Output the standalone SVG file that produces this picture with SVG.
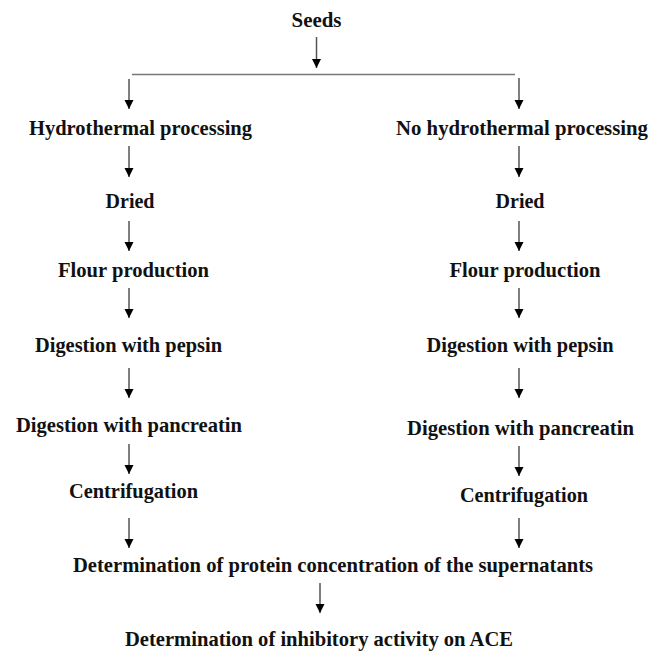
<svg xmlns="http://www.w3.org/2000/svg" width="667" height="654" viewBox="0 0 667 654">
<defs>
<marker id="ah" markerUnits="userSpaceOnUse" markerWidth="10" markerHeight="10" viewBox="0 0 10 10" refX="9" refY="5" orient="auto">
<path d="M0,0.5 L9,5 L0,9.5 Z" fill="#000"/>
</marker>
<style>
text{font-family:"Liberation Serif","Times New Roman",serif;font-weight:bold;font-size:22px;fill:#111;text-anchor:middle}
.c{stroke:#777;stroke-width:1.5;fill:none}
.a{stroke:#555;stroke-width:1.5;fill:none;marker-end:url(#ah)}
</style>
</defs>
<rect width="667" height="654" fill="#fff"/>
<g id="connectors">
<line class="a" x1="316.5" y1="37" x2="316.5" y2="68"/>
<line class="c" x1="132" y1="74.5" x2="515" y2="74.5"/>
<line class="a" x1="129" y1="79" x2="129" y2="109"/>
<line class="a" x1="519" y1="78" x2="519" y2="109"/>
<line class="a" x1="129" y1="146" x2="129" y2="177"/>
<line class="a" x1="519" y1="146" x2="519" y2="177"/>
<line class="a" x1="129" y1="221" x2="129" y2="251"/>
<line class="a" x1="519" y1="221" x2="519" y2="251"/>
<line class="a" x1="129" y1="288" x2="129" y2="318"/>
<line class="a" x1="519" y1="288" x2="519" y2="318"/>
<line class="a" x1="129" y1="368" x2="129" y2="398"/>
<line class="a" x1="519" y1="368" x2="519" y2="398"/>
<line class="a" x1="129" y1="444" x2="129" y2="474"/>
<line class="a" x1="519" y1="446" x2="519" y2="476"/>
<line class="a" x1="129" y1="518" x2="129" y2="548"/>
<line class="a" x1="519" y1="518" x2="519" y2="548"/>
<line class="a" x1="320" y1="583" x2="320" y2="613"/>
</g>
<g id="seeds"><text x="316.5" y="27" textLength="50" lengthAdjust="spacingAndGlyphs">Seeds</text></g>
<g id="hydro"><text x="140.5" y="135" textLength="223" lengthAdjust="spacingAndGlyphs">Hydrothermal processing</text></g>
<g id="nohydro"><text x="522" y="135" textLength="252" lengthAdjust="spacingAndGlyphs">No hydrothermal processing</text></g>
<g id="dried-l"><text x="130" y="208" textLength="49" lengthAdjust="spacingAndGlyphs">Dried</text></g>
<g id="dried-r"><text x="520" y="208" textLength="49" lengthAdjust="spacingAndGlyphs">Dried</text></g>
<g id="flour-l"><text x="133.5" y="277" textLength="151" lengthAdjust="spacingAndGlyphs">Flour production</text></g>
<g id="flour-r"><text x="525" y="277" textLength="151" lengthAdjust="spacingAndGlyphs">Flour production</text></g>
<g id="pepsin-l"><text x="128.5" y="352" textLength="187" lengthAdjust="spacingAndGlyphs">Digestion with pepsin</text></g>
<g id="pepsin-r"><text x="520" y="352" textLength="187" lengthAdjust="spacingAndGlyphs">Digestion with pepsin</text></g>
<g id="pancreatin-l"><text x="129" y="432" textLength="226" lengthAdjust="spacingAndGlyphs">Digestion with pancreatin</text></g>
<g id="pancreatin-r"><text x="520.5" y="435" textLength="227" lengthAdjust="spacingAndGlyphs">Digestion with pancreatin</text></g>
<g id="centrif-l"><text x="133.5" y="498" textLength="129" lengthAdjust="spacingAndGlyphs">Centrifugation</text></g>
<g id="centrif-r"><text x="524" y="502" textLength="128" lengthAdjust="spacingAndGlyphs">Centrifugation</text></g>
<g id="protein"><text x="333" y="572" textLength="520" lengthAdjust="spacingAndGlyphs">Determination of protein concentration of the supernatants</text></g>
<g id="ace"><text x="319" y="646" textLength="388" lengthAdjust="spacingAndGlyphs">Determination of inhibitory activity on ACE</text></g>
</svg>
